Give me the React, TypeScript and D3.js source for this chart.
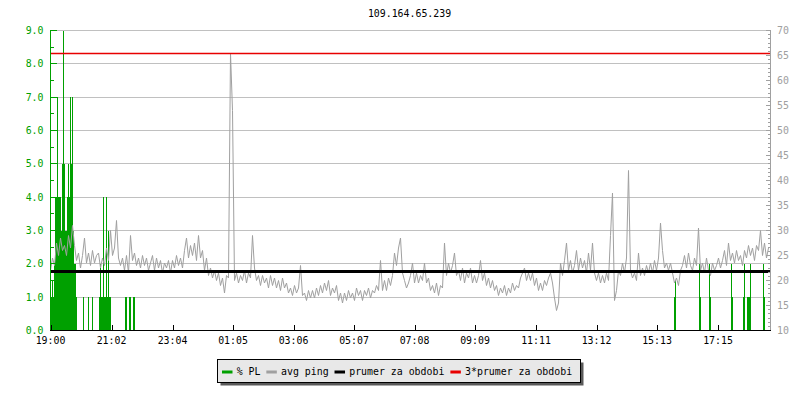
import React from 'react';
import * as d3 from 'd3';

const chartTitle = '109.164.65.239';
const startTime = new Date(2000, 0, 1, 19, 0, 0);
const spanMinutes = 1440;
const pingStepMinutes = 4;
const plStepMinutes = 2;

// avg ping (ms), one value every 4 minutes from 19:00
const avgPing: number[] = [
  22, 24.5, 23, 27.5, 25, 28.5, 26, 27, 25, 29, 26.5, 31,
  27, 24, 25.5, 22.5, 25, 28.5, 23.5, 25.5, 23, 26, 23.5, 25,
  25.5, 22.5, 24.5, 23, 26.5, 24, 30, 25, 26.5, 32, 24.5, 23,
  24.5, 22, 25, 21.5, 29, 24, 25.5, 23, 24.5, 22.5, 25, 23,
  24.5, 22, 23.5, 25, 22, 24.5, 22.5, 24, 21.5, 23.5, 22.5, 24,
  21.5, 24, 22.5, 25, 23, 24.5, 22.5, 26, 28.5, 24.5, 27, 25,
  27.5, 24, 29, 24.5, 26, 22, 24.5, 21, 22.5, 20.5, 22, 20,
  21.5, 19, 20.5, 17.5, 21, 20.5, 65.4, 54, 20, 21.5, 19.5, 21,
  20, 22, 19.5, 21.5, 20.5, 29, 22.5, 20, 21, 19, 21, 19.5,
  20.5, 18.5, 21, 19, 20.5, 18.5, 20, 18, 20.5, 18.5, 19.5, 17.5,
  18.5, 17, 19, 17.5, 18.5, 23, 17, 17.5, 16, 18, 16.5, 18,
  16.5, 18.5, 17, 19, 17.5, 19.5, 18, 20, 17, 18.5, 17.5, 19,
  16, 17.5, 15.5, 17.5, 16, 18, 16.5, 17.5, 16, 18.5, 17, 18,
  16, 18, 17, 18.5, 16.5, 18, 17.5, 19, 18, 24, 18, 20,
  18, 20.5, 19, 21, 25.5, 23, 26.5, 28.5, 21.5, 20, 18.5, 19.5,
  21, 23.5, 19.5, 21.5, 19.5, 21, 20, 23.5, 19.5, 20.5, 18, 19,
  17.5, 19.5, 17, 19, 18.5, 27.5, 21, 23.5, 21.5, 23, 25.5, 21,
  22, 20, 22.5, 19.5, 21.5, 20.5, 22.5, 19.5, 21, 19.5, 21, 24,
  20, 21.5, 19, 20.5, 18.5, 20, 18, 19, 17, 18.5, 17.5, 19,
  17, 18.5, 17.5, 19.5, 18, 19, 18.5, 20.5, 21.5, 22.5, 20, 21.5,
  20, 21.5, 19, 20.5, 18, 19.5, 18, 20, 19, 20.5, 21.5, 19.5,
  16.5, 14, 15.5, 23.5, 21, 24, 27.5, 22, 24, 21.5, 23, 26,
  22, 24.5, 22.5, 24, 21.5, 25.5, 22, 27.5, 21.5, 20, 21.5, 19.5,
  21, 19.5, 21.5, 20, 29, 37.5, 16, 18, 22, 21, 23.5, 21.5,
  24.5, 42, 22, 20.5, 21.5, 20, 25.5, 21, 22.5, 21, 23, 21.5,
  23.5, 21.5, 24, 22, 24.5, 31.5, 26, 22.5, 23.5, 22, 23.5, 21.5,
  19.5, 20.5, 19, 22, 23, 25, 22.5, 25.5, 23, 22, 24.5, 23,
  30.5, 22, 23.5, 21.5, 24.5, 22, 21, 23.5, 22, 23, 24.5, 22.5,
  24, 26, 23, 27.5, 24, 25.5, 23.5, 26, 24, 25, 23, 26,
  24.5, 27, 25, 26.5, 24, 27, 26, 30, 25, 27.5, 24.5, 26.5,
];

// % packet loss: [minutes after 19:00, value], each lasting 2 minutes; zero elsewhere
const packetLoss: [number, number][] = [
  [1, 1], [3, 1.5], [5, 1], [7, 2], [9, 4], [11, 4], [13, 7], [15, 4], [17, 4], [19, 4],
  [21, 3], [23, 5], [25, 9], [27, 5], [29, 3], [31, 3], [33, 4], [35, 5], [37, 4], [39, 7],
  [41, 5], [43, 7], [45, 3], [47, 2], [49, 2], [51, 1],
  [65, 1], [75, 1], [83, 1],
  [97, 1], [99, 2], [101, 1], [103, 1], [105, 4], [107, 1], [109, 1], [111, 4], [113, 1],
  [115, 3], [117, 1], [119, 1],
  [149, 1], [151, 1], [157, 1], [159, 1], [165, 1], [167, 1],
  [1247, 1], [1249, 1.5], [1297, 2], [1299, 1], [1317, 2], [1319, 1], [1361, 2], [1363, 1],
  [1385, 1], [1387, 2], [1393, 1], [1395, 1], [1397, 1], [1399, 2], [1425, 2], [1427, 1],
];

const periodAverage = 21.8; // prumer za obdobi (ms)
const averageMultiplier = 3;

const timeTickLabels = ['19:00', '21:02', '23:04', '01:05', '03:06', '05:07', '07:08', '09:09', '11:11', '13:12', '15:13', '17:15'];
const leftTicks = [0, 1, 2, 3, 4, 5, 6, 7, 8, 9];
const rightTicks = [10, 15, 20, 25, 30, 35, 40, 45, 50, 55, 60, 65, 70];
const legendLabels = ['% PL', 'avg ping', 'prumer za obdobi', '3*prumer za obdobi'];
const seriesColors = ['#00a000', '#a0a0a0', '#000000', '#e80000'];

const FONT = '"DejaVu Sans Mono", monospace';
const FS = 9.9;
const CHAR_W = 5.96;

function minutesToDate(m: number) {
  return new Date(startTime.getTime() + m * 60000);
}

function labelToDate(label: string) {
  const [h, m] = label.split(':').map(Number);
  const d = new Date(startTime);
  d.setHours(h, m, 0, 0);
  if (d < startTime) d.setDate(d.getDate() + 1);
  return d;
}

export default function App() {
  const x = d3.scaleTime().domain([startTime, minutesToDate(spanMinutes)]).range([50.5, 770.5]);
  const yL = d3.scaleLinear().domain([0, 9]).range([330.5, 30.5]);
  const yR = d3.scaleLinear().domain([10, 70]).range([330.5, 30.5]);

  const pingLine = d3
    .line<number>()
    .x((_, i) => x(minutesToDate(i * pingStepMinutes)))
    .y((v) => yR(v))(avgPing) as string;

  const leftMinor = d3.range(0, 9.0001, 0.5);
  const rightMinor = d3.range(0, 73).map((k) => 10 + (k * 5) / 6);

  const legendItems: { label: string; color: string; sx: number; tx: number }[] = [];
  let sx = 222;
  legendLabels.forEach((label, i) => {
    const tx = sx + 14.7;
    legendItems.push({ label, color: seriesColors[i], sx, tx });
    sx = tx + label.length * CHAR_W + 5.8;
  });

  return (
    <svg
      width={800}
      height={400}
      style={{ position: 'absolute', left: 0, top: 0, background: '#fff' }}
      fontFamily={FONT}
      fontSize={FS}
    >
      <rect x={0} y={0} width={800} height={400} fill="#ffffff" />
      <text x={409.5} y={16.7} textAnchor="middle" fill="#000">
        {chartTitle}
      </text>

      {/* grid */}
      <g shapeRendering="crispEdges">
        {leftTicks.filter((t) => t > 0).map((t) => (
          <line key={t} x1={51} x2={770} y1={yL(t)} y2={yL(t)} stroke="#c0c0c0" strokeWidth={1} />
        ))}
      </g>

      {/* packet loss */}
      <g shapeRendering="crispEdges" fill={seriesColors[0]}>
        {packetLoss.map(([m, v]) => {
          const x0 = x(minutesToDate(m));
          const x1 = x(minutesToDate(m + plStepMinutes));
          return <rect key={m} x={x0} width={x1 - x0} y={yL(v)} height={yL(0) - yL(v)} />;
        })}
      </g>

      {/* avg ping */}
      <path d={pingLine} fill="none" stroke={seriesColors[1]} strokeWidth={1} />

      {/* averages */}
      <line x1={51} x2={770} y1={yR(periodAverage)} y2={yR(periodAverage)} stroke={seriesColors[2]} strokeWidth={3} />
      <line
        x1={51}
        x2={770}
        y1={yR(periodAverage * averageMultiplier)}
        y2={yR(periodAverage * averageMultiplier)}
        stroke={seriesColors[3]}
        strokeWidth={1.3}
      />

      {/* left axis */}
      <g shapeRendering="crispEdges" stroke={seriesColors[0]}>
        <line x1={50.5} x2={50.5} y1={30} y2={331} />
        {leftMinor.map((t) => (
          <line key={t} x1={50.5} x2={Number.isInteger(t) ? 56.5 : 53.5} y1={yL(t)} y2={yL(t)} />
        ))}
      </g>
      <g fill={seriesColors[0]} textAnchor="end">
        {leftTicks.map((t) => (
          <text key={t} x={43.5} y={yL(t) + 3.6}>
            {d3.format('.1f')(t)}
          </text>
        ))}
      </g>

      {/* right axis */}
      <g shapeRendering="crispEdges" stroke="#a0a0a0">
        <line x1={770.5} x2={770.5} y1={30} y2={331} />
        {rightMinor.map((t, k) => (
          <line key={k} x1={770.5} x2={k % 6 === 0 ? 765.5 : 767.5} y1={yR(t)} y2={yR(t)} />
        ))}
      </g>
      <g fill="#a0a0a0">
        {rightTicks.map((t) => (
          <text key={t} x={777} y={yR(t) + 3.6}>
            {t}
          </text>
        ))}
      </g>

      {/* bottom axis */}
      <g shapeRendering="crispEdges" stroke="#000">
        <line x1={50} x2={771} y1={330.5} y2={330.5} />
        {timeTickLabels.map((l) => (
          <line key={l} x1={Math.round(x(labelToDate(l))) + 0.5} x2={Math.round(x(labelToDate(l))) + 0.5} y1={325} y2={330.5} />
        ))}
      </g>
      <g fill="#000" textAnchor="middle">
        {timeTickLabels.map((l) => (
          <text key={l} x={x(labelToDate(l))} y={344}>
            {l}
          </text>
        ))}
      </g>

      {/* legend */}
      <g>
        <rect x={220.5} y={362.5} width={363} height={23} fill="#5a5a5a" />
        <rect x={217.5} y={359.5} width={363} height={23} fill="#e8e8e8" stroke="#000" strokeWidth={1} />
        {legendItems.map((it) => (
          <g key={it.label}>
            <rect x={it.sx} y={370.5} width={10.5} height={3} fill={it.color} />
            <text x={it.tx} y={374.5} fill="#000">
              {it.label}
            </text>
          </g>
        ))}
      </g>
    </svg>
  );
}
